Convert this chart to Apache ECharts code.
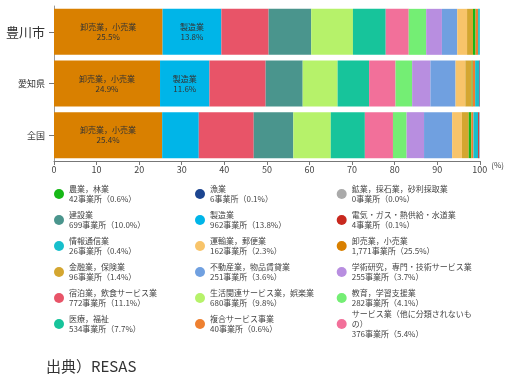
<!DOCTYPE html>
<html><head><meta charset="utf-8">
<script src="https://cdn.jsdelivr.net/npm/echarts@6/dist/echarts.min.js"></script>
<style>html,body{margin:0;padding:0;background:#fff}#c{width:505px;height:380px}</style>
</head><body><div id="c"></div>
<script>
// Regions (top to bottom)
const regions = ['豊川市', '愛知県', '全国'];
// Industries in stacking order (left to right)
const industries = ['卸売業，小売業','製造業','宿泊業，飲食サービス業','建設業','生活関連サービス業，娯楽業','医療，福祉','サービス業（他に分類されないもの）','教育，学習支援業','学術研究，専門・技術サービス業','不動産業，物品賃貸業','運輸業，郵便業','金融業，保険業','農業，林業','複合サービス事業','情報通信業','電気・ガス・熱供給・水道業','漁業','鉱業，採石業，砂利採取業'];
const colors = ['#d98000','#00b5e8','#e85468','#4a958d','#b6f26a','#17c49b','#f2709a','#74ee74','#b88ee0','#70a0e0','#f8c46a','#d4a630','#17b817','#ee8030','#17bfcc','#c8281e','#1c4590','#aaaaaa'];
// Share (%) per industry for [豊川市, 愛知県, 全国]
const share = [
  [25.5, 24.9, 25.4],
  [13.8, 11.6, 8.6],
  [11.1, 13.2, 12.9],
  [10.0, 8.7, 9.3],
  [9.8, 8.2, 8.8],
  [7.7, 7.4, 8.0],
  [5.4, 6.2, 6.6],
  [4.1, 3.9, 3.2],
  [3.7, 4.3, 4.1],
  [3.6, 5.9, 6.6],
  [2.3, 2.3, 2.3],
  [1.4, 1.5, 1.6],
  [0.6, 0.2, 0.6],
  [0.6, 0.6, 0.5],
  [0.4, 0.9, 1.1],
  [0.1, 0.1, 0.2],
  [0.1, 0.1, 0.1],
  [0.0, 0.0, 0.0]
];
// Which bar segments carry an inside label
const labeled = {'卸売業，小売業': [true, true, true], '製造業': [true, true, false]};
// Legend (豊川市 counts), row-major order, 3 columns
const legendOrder = ['農業，林業','漁業','鉱業，採石業，砂利採取業','建設業','製造業','電気・ガス・熱供給・水道業','情報通信業','運輸業，郵便業','卸売業，小売業','金融業，保険業','不動産業，物品賃貸業','学術研究，専門・技術サービス業','宿泊業，飲食サービス業','生活関連サービス業，娯楽業','教育，学習支援業','医療，福祉','複合サービス事業','サービス業（他に分類されないもの）'];
const legendCounts = ['42','6','0','699','962','4','26','162','1,771','96','251','255','772','680','282','534','40','376'];
const legendPct = ['0.6','0.1','0.0','10.0','13.8','0.1','0.4','2.3','25.5','1.4','3.6','3.7','11.1','9.8','4.1','7.7','0.6','5.4'];
const xTicks = [0,10,20,30,40,50,60,70,80,90,100];

const FONT = '"Noto Sans CJK JP", "Noto Sans", sans-serif';
const chart = echarts.init(document.getElementById('c'), null, {renderer: 'canvas'});

const series = industries.map((name, i) => ({
  name, type: 'bar', stack: 'all', barCategoryGap: '11%',
  itemStyle: {color: colors[i]},
  emphasis: {disabled: true},
  label: {show: false},
  data: share[i].map((v, r) => {
    const d = {value: v};
    if (labeled[name] && labeled[name][r]) {
      d.label = {show: true, position: 'inside', fontSize: 8, lineHeight: 10, color: '#333', fontFamily: FONT,
        formatter: (p) => p.seriesName + '\n' + p.value.toFixed(1) + '%'};
    }
    return d;
  })
}));

const colLeft = [54, 195, 336.7];
const rowCy = [194, 220, 246, 272, 298, 324];
const legends = legendOrder.map((name, k) => {
  const idx = legendOrder.indexOf(name);
  const disp = name.replace('ないもの', 'ないも\nの');
  const lines = disp.split('\n').length + 1;
  const lh = 10;
  const padTop = (lines - 1) * lh;
  const topExt = (padTop + lines * lh) / 2;
  return {
    left: colLeft[k % 3], top: rowCy[Math.floor(k / 3)] - topExt,
    padding: 0, itemWidth: 10, itemHeight: 10, icon: 'circle',
    selectedMode: false,
    data: [name],
    formatter: () => disp + '\n' + legendCounts[idx] + '事業所（' + legendPct[idx] + '%）',
    textStyle: {fontSize: 8, lineHeight: lh, color: '#444', fontFamily: FONT, padding: [padTop, 0, 0, 0]}
  };
});

chart.setOption({
  animation: false,
  textStyle: {fontFamily: FONT},
  title: {text: '出典）RESAS', left: 46, top: 359, padding: 0,
    textStyle: {fontSize: 15, fontWeight: 'normal', color: '#333', fontFamily: FONT}},
  grid: {left: 54, right: 25, top: 6, bottom: 219},
  legend: legends,
  xAxis: {
    type: 'value', min: xTicks[0], max: xTicks[xTicks.length - 1], interval: 10,
    name: '(%)', nameLocation: 'end', nameGap: 9,
    nameTextStyle: {fontSize: 8, color: '#444', verticalAlign: 'top', align: 'left', padding: [0, 0, 0, 0], fontFamily: FONT},
    axisLine: {show: true, lineStyle: {color: '#777'}},
    axisTick: {show: true, length: 4, lineStyle: {color: '#777'}},
    axisLabel: {fontSize: 9, color: '#444', margin: 4, fontFamily: FONT},
    splitLine: {show: false}
  },
  yAxis: {
    type: 'category', inverse: true, data: regions,
    axisLine: {show: true, lineStyle: {color: '#999'}},
    axisTick: {show: true, alignWithLabel: true, length: 5, lineStyle: {color: '#777'}},
    axisLabel: {margin: 9, fontFamily: FONT,
      formatter: (v) => v === '豊川市' ? '{big|' + v + '}' : '{small|' + v + '}',
      rich: {big: {fontSize: 13, color: '#333', fontFamily: FONT}, small: {fontSize: 9, color: '#333', fontFamily: FONT}}}
  },
  series
});
</script></body></html>
